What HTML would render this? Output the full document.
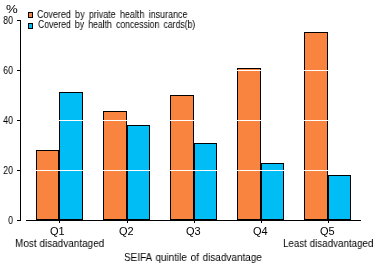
<!DOCTYPE html>
<html><head><meta charset="utf-8">
<style>
html,body{margin:0;padding:0;background:#fff;}
body{width:378px;height:265px;position:relative;overflow:hidden;font-family:"Liberation Sans",sans-serif;color:#000;}
.t{will-change:transform;position:absolute;white-space:nowrap;line-height:1;}
.ax{font-size:11px;}
.lg{font-size:10px;}
svg{position:absolute;left:0;top:0;}
</style></head><body>
<svg width="378" height="265" viewBox="0 0 378 265" shape-rendering="crispEdges">
  <!-- bars: border box inclusive x0..x1, top..219 -->
  <g stroke="none">
    <!-- Q1 -->
    <rect x="36" y="150" width="23" height="70" fill="#000"/><rect x="37" y="151" width="21" height="68" fill="#F8843F"/>
    <rect x="59" y="92" width="24" height="128" fill="#000"/><rect x="60" y="93" width="22" height="126" fill="#00BEF5"/>
    <!-- Q2 -->
    <rect x="103" y="111" width="24" height="109" fill="#000"/><rect x="104" y="112" width="22" height="107" fill="#F8843F"/>
    <rect x="127" y="125" width="23" height="95" fill="#000"/><rect x="128" y="126" width="21" height="93" fill="#00BEF5"/>
    <!-- Q3 -->
    <rect x="170" y="95" width="24" height="125" fill="#000"/><rect x="171" y="96" width="22" height="123" fill="#F8843F"/>
    <rect x="194" y="143" width="23" height="77" fill="#000"/><rect x="195" y="144" width="21" height="75" fill="#00BEF5"/>
    <!-- Q4 -->
    <rect x="237" y="68" width="24" height="152" fill="#000"/><rect x="238" y="69" width="22" height="150" fill="#F8843F"/>
    <rect x="261" y="163" width="23" height="57" fill="#000"/><rect x="262" y="164" width="21" height="55" fill="#00BEF5"/>
    <!-- Q5 -->
    <rect x="304" y="32" width="24" height="188" fill="#000"/><rect x="305" y="33" width="22" height="186" fill="#F8843F"/>
    <rect x="328" y="175" width="23" height="45" fill="#000"/><rect x="329" y="176" width="21" height="43" fill="#00BEF5"/>
  </g>
  <!-- white gridlines over bars -->
  <g fill="#fff">
    <rect x="26" y="170" width="335" height="1"/>
    <rect x="26" y="120" width="335" height="1"/>
    <rect x="26" y="70" width="335" height="1"/>
  </g>
  <!-- axes -->
  <g fill="#000">
    <rect x="20" y="20" width="1" height="201"/>
    <rect x="17" y="20" width="3" height="1"/>
    <rect x="17" y="70" width="3" height="1"/>
    <rect x="17" y="120" width="3" height="1"/>
    <rect x="17" y="170" width="3" height="1"/>
    <rect x="17" y="220" width="3" height="1"/>
    <rect x="26" y="220" width="335" height="1"/>
    <rect x="59" y="221" width="1" height="2"/>
    <rect x="127" y="221" width="1" height="2"/>
    <rect x="194" y="221" width="1" height="2"/>
    <rect x="261" y="221" width="1" height="2"/>
    <rect x="328" y="221" width="1" height="2"/>
  </g>
  <!-- legend swatches -->
  <rect x="28" y="12" width="5" height="6" fill="#000"/><rect x="29" y="13" width="3" height="4" fill="#F8843F"/>
  <rect x="28" y="23" width="5" height="6" fill="#000"/><rect x="29" y="24" width="3" height="4" fill="#00BEF5"/>
</svg>
<div class="t ax" style="left:6px;top:4px;transform:scaleX(1.2);transform-origin:0 0">%</div>
<div class="t ax" style="right:365px;transform:scaleX(0.83);transform-origin:100% 0;top:15px">80</div>
<div class="t ax" style="right:365px;transform:scaleX(0.83);transform-origin:100% 0;top:65px">60</div>
<div class="t ax" style="right:365px;transform:scaleX(0.83);transform-origin:100% 0;top:115px">40</div>
<div class="t ax" style="right:365px;transform:scaleX(0.83);transform-origin:100% 0;top:165px">20</div>
<div class="t ax" style="right:365px;transform:scaleX(0.83);transform-origin:100% 0;top:215px">0</div>
<div class="t lg" style="left:37px;top:10px;word-spacing:2px;transform:scaleX(0.895);transform-origin:0 0">Covered by private health insurance</div>
<div class="t lg" style="left:37.5px;top:20px;word-spacing:2px;transform:scaleX(0.867);transform-origin:0 0">Covered by health concession cards(b)</div>
<div class="t ax" style="left:50px;top:226px">Q1</div>
<div class="t ax" style="left:119px;top:226px">Q2</div>
<div class="t ax" style="left:186px;top:226px">Q3</div>
<div class="t ax" style="left:253px;top:226px">Q4</div>
<div class="t ax" style="left:320px;top:226px">Q5</div>
<div class="t ax" style="left:15px;top:238px;transform:scaleX(0.907);transform-origin:0 0">Most disadvantaged</div>
<div class="t ax" style="left:283px;top:238px;transform:scaleX(0.89);transform-origin:0 0">Least disadvantaged</div>
<div class="t ax" style="left:124px;top:252px;word-spacing:1px;transform:scaleX(0.906);transform-origin:0 0">SEIFA quintile of disadvantage</div>
</body></html>
